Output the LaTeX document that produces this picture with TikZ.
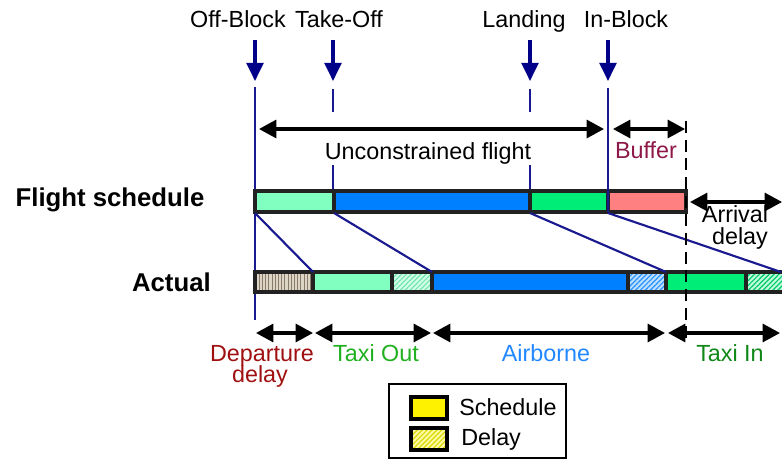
\documentclass[tikz,border=0pt]{standalone}
\usepackage{fontspec}
\setmainfont{Liberation Sans}
\usetikzlibrary{arrows.meta,patterns.meta}
\definecolor{mint}{HTML}{80FFC0}
\definecolor{skyb}{HTML}{0080FF}
\definecolor{grn}{HTML}{00EE78}
\definecolor{salmon}{HTML}{FF8080}
\definecolor{navy}{HTML}{000088}
\definecolor{lineblue}{HTML}{1A1A90}
\definecolor{bord}{HTML}{222222}
\definecolor{beige}{HTML}{DCD4C4}
\definecolor{beigeline}{HTML}{8A7A6A}
\definecolor{depred}{HTML}{A01010}
\definecolor{taxigreen}{HTML}{20B020}
\definecolor{airblue}{HTML}{2288FF}
\definecolor{taxiin}{HTML}{108818}
\definecolor{bufcol}{HTML}{8E1848}
\begin{document}
\begin{tikzpicture}[x=0.75pt,y=-0.75pt,
  font=\fontsize{17.5}{19}\selectfont,
  lbl/.style={anchor=base,inner sep=0pt},
  bold/.style={anchor=base,inner sep=0pt,font=\fontsize{19.3}{21}\selectfont\bfseries},
  downarr/.style={draw=navy,line width=2.4pt,-{Triangle[length=13.5pt,width=12.5pt]}},
  vline/.style={draw=lineblue,line width=1.6pt},
  dbl/.style={draw=black,line width=2.3pt,{Triangle[length=13pt,width=13.5pt]}-{Triangle[length=13pt,width=13.5pt]}},
  seg/.style={draw=bord,line width=2.4pt},
  hatch/.style={pattern={Lines[angle=45,distance=2.6pt,line width=0.9pt]},pattern color=#1},
  vhatch/.style={pattern={Lines[angle=90,distance=2.4pt,line width=0.7pt]},pattern color=beigeline},
  dashline/.style={draw=black,line width=2pt,dash pattern=on 9pt off 5pt}
]
\clip (0,0) rectangle (782,460);
\fill[white] (0,0) rectangle (782,460);

% event labels
\node[lbl] (ob) at (238,28) {Off-Block};
\node[lbl] (to) at (339,28) {Take-Off};
\node[lbl] (la) at (524,28) {Landing};
\node[lbl] (ib) at (626,28) {In-Block};

% event arrows
\coordinate (obA) at (255,40); \coordinate (obB) at (255,81);
\coordinate (toA) at (333,40); \coordinate (toB) at (333,81);
\coordinate (laA) at (530,40); \coordinate (laB) at (530,81);
\coordinate (ibA) at (608,40); \coordinate (ibB) at (608,81);
\draw[downarr] (obA) -- (obB);
\draw[downarr] (toA) -- (toB);
\draw[downarr] (laA) -- (laB);
\draw[downarr] (ibA) -- (ibB);

% vertical guide lines
\coordinate (obL1) at (255,87); \coordinate (obL2) at (255,320);
\draw[vline] (obL1) -- (obL2);
\coordinate (toL1) at (333,89); \coordinate (toL2) at (333,112);
\coordinate (toL3) at (333,165); \coordinate (toL4) at (333,191);
\draw[vline] (toL1) -- (toL2) (toL3) -- (toL4);
\coordinate (laL1) at (530,89); \coordinate (laL2) at (530,112);
\coordinate (laL3) at (530,165); \coordinate (laL4) at (530,191);
\draw[vline] (laL1) -- (laL2) (laL3) -- (laL4);

% left labels
\node[bold] (fs) at (110,206) {Flight schedule};
\node[bold,anchor=base east] (ac) at (211,291) {Actual};

% schedule bar
\draw[seg,fill=mint] (255,191) rectangle (334,212);
\draw[seg,fill=skyb] (334,191) rectangle (530,212);
\draw[seg,fill=grn] (530,191) rectangle (608,212);
\draw[seg,fill=salmon] (608,191) rectangle (686,212);

% actual bar
\fill[beige] (255,272) rectangle (313,292);
\fill[vhatch] (255,272) rectangle (313,292);
\draw[seg] (255,272) rectangle (313,292);
\draw[seg,fill=mint] (313,272) rectangle (392,292);
\fill[mint!35] (392,272) rectangle (432,292);
\fill[hatch=mint!90!black] (392,272) rectangle (432,292);
\draw[seg] (392,272) rectangle (432,292);
\draw[seg,fill=skyb] (432,272) rectangle (628,292);
\fill[skyb!25] (628,272) rectangle (666,292);
\fill[hatch=skyb!85] (628,272) rectangle (666,292);
\draw[seg] (628,272) rectangle (666,292);
\draw[seg,fill=grn] (666,272) rectangle (746,292);
\fill[grn!25] (746,272) rectangle (800,292);
\fill[hatch=grn!85!black] (746,272) rectangle (800,292);
\draw[seg] (746,272) rectangle (800,292);

% In-Block line
\coordinate (ibL1) at (608,88); \coordinate (ibL2) at (608,212);
\draw[vline] (ibL1) -- (ibL2);

% mapping diagonals
\coordinate (d1a) at (255,213); \coordinate (d1b) at (313,272);
\coordinate (d2a) at (334,213); \coordinate (d2b) at (432,272);
\coordinate (d3a) at (530,213); \coordinate (d3b) at (666,272);
\coordinate (d4a) at (608,213); \coordinate (d4b) at (781,272);
\draw[vline] (d1a) -- (d1b);
\draw[vline] (d2a) -- (d2b);
\draw[vline] (d3a) -- (d3b);
\draw[vline] (d4a) -- (d4b);

% dashed end-of-schedule line
\coordinate (dsA) at (686,121); \coordinate (dsB) at (686,344);
\draw[dashline] (dsA) -- (dsB);

% top interval arrows
\coordinate (ufA) at (259,129); \coordinate (ufB) at (604,129);
\draw[dbl] (ufA) -- (ufB);
\node[lbl] (uf) at (428,159) {Unconstrained flight};
\coordinate (bfA) at (613,129); \coordinate (bfB) at (685,129);
\draw[dbl] (bfA) -- (bfB);
\node[lbl,text=bufcol] (bf) at (646,158) {Buffer};

% arrival delay
\coordinate (adA) at (690,202); \coordinate (adB) at (782,202);
\draw[dbl] (adA) -- (adB);
\node[lbl] (ad1) at (735,222) {Arrival};
\node[lbl] (ad2) at (740,244) {delay};

% bottom interval arrows
\coordinate (b0) at (256,333); \coordinate (b1) at (313,333);
\coordinate (b2) at (315,333); \coordinate (b3) at (431,333);
\coordinate (b4) at (433,333); \coordinate (b5) at (665,333);
\coordinate (b6) at (668,333); \coordinate (b7) at (780,333);
\draw[dbl] (b0) -- (b1);
\draw[dbl] (b2) -- (b3);
\draw[dbl] (b4) -- (b5);
\draw[dbl] (b6) -- (b7);
\node[lbl,text=depred] (dd1) at (262,361) {Departure};
\node[lbl,text=depred] (dd2) at (260,382) {delay};
\node[lbl,text=taxigreen] (tx) at (376,361) {Taxi Out};
\node[lbl,text=airblue] (ab) at (546,361) {Airborne};
\node[lbl,text=taxiin] (ti) at (730,361) {Taxi In};

% legend
\draw[draw=black,line width=2.2pt,fill=white] (389,384) rectangle (566,458);
\draw[seg,draw=black,fill=yellow] (411,397) rectangle (447,419);
\fill[yellow!35] (411,428) rectangle (447,450);
\fill[hatch=yellow!85!black] (411,428) rectangle (447,450);
\draw[seg,draw=black] (411,428) rectangle (447,450);
\node[lbl,anchor=base west] (lg1) at (459,415) {Schedule};
\node[lbl,anchor=base west] (lg2) at (461,445) {Delay};
\end{tikzpicture}
\end{document}
